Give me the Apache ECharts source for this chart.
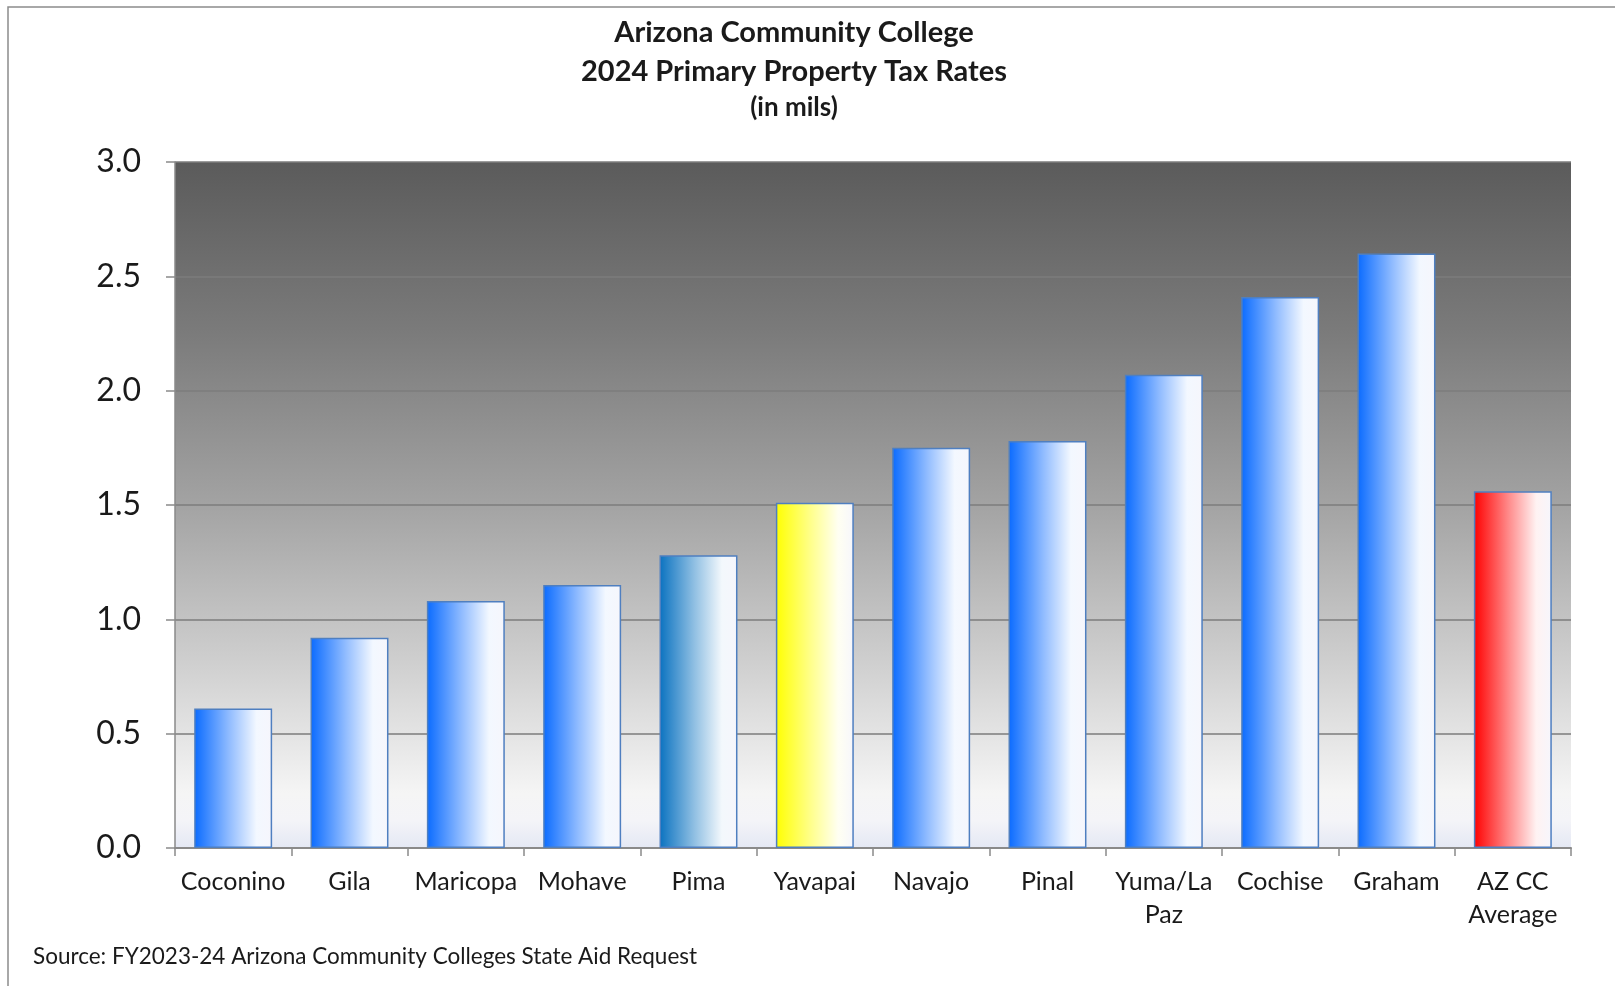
<!DOCTYPE html>
<html>
<head>
<meta charset="utf-8">
<title>Arizona Community College 2024 Primary Property Tax Rates</title>
<script src="https://cdn.jsdelivr.net/npm/echarts@6/dist/echarts.min.js"></script>
<style>
  html, body { margin: 0; padding: 0; background: #ffffff; }
  #chart { width: 1615px; height: 986px; }
</style>
</head>
<body>
<div id="chart"></div>
<script>
// Colleges, in the order they are plotted
const colleges = ['Coconino', 'Gila', 'Maricopa', 'Mohave', 'Pima', 'Yavapai', 'Navajo', 'Pinal', 'Yuma/La\nPaz', 'Cochise', 'Graham', 'AZ CC\nAverage'];
// Primary property tax rate, mils
const taxRates = [0.61, 0.92, 1.08, 1.15, 1.28, 1.51, 1.75, 1.78, 2.07, 2.41, 2.60, 1.56];
// Highlight colour per bar (default blue)
const barBaseColors = ['#0a6bff', '#0a6bff', '#0a6bff', '#0a6bff', '#0a72c0', '#ffff00', '#0a6bff', '#0a6bff', '#0a6bff', '#0a6bff', '#0a6bff', '#ff0000'];
const yTicks = [0, 0.5, 1.0, 1.5, 2.0, 2.5, 3.0];
const titleLines = ['Arizona Community College', '2024 Primary Property Tax Rates', '(in mils)'];

const chart = echarts.init(document.getElementById('chart'), null, { renderer: 'canvas' });

function mix(hex, t) {
  // blend colour with white by t (0 = colour, 1 = white)
  const n = parseInt(hex.slice(1), 16);
  const r = (n >> 16) & 255, g = (n >> 8) & 255, b = n & 255;
  const f = c => Math.round(c + (255 - c) * t);
  return 'rgb(' + f(r) + ',' + f(g) + ',' + f(b) + ')';
}

function barFill(base) {
  return new echarts.graphic.LinearGradient(0, 0, 1, 0, [
    { offset: 0, color: base },
    { offset: 0.45, color: mix(base, 0.55) },
    { offset: 0.8, color: mix(base, 0.95) },
    { offset: 1, color: '#f6f6fc' }
  ]);
}

const fontFamily = 'Lato, "Open Sans", sans-serif';
const titleX = 794;

const option = {
  backgroundColor: '#ffffff',
  animation: false,
  graphic: [
    { type: 'rect', shape: { x: 8, y: 7, width: 1700, height: 1100 }, style: { fill: 'none', stroke: '#8c8c8c', lineWidth: 1.5 }, silent: true },
    { type: 'text', x: titleX, y: 18,
      style: { text: titleLines[0], align: 'center', fontFamily, fontSize: 29, fontWeight: 'bold', fill: '#1a1a1a' } },
    { type: 'text', x: titleX, y: 57,
      style: { text: titleLines[1], align: 'center', fontFamily, fontSize: 29, fontWeight: 'bold', fill: '#1a1a1a' } },
    { type: 'text', x: titleX, y: 95,
      style: { text: titleLines[2], align: 'center', fontFamily, fontSize: 26, fontWeight: 'bold', fill: '#1a1a1a' } },
    { type: 'text', left: 33, top: 945,
      style: { text: 'Source: FY2023-24 Arizona Community Colleges State Aid Request', fontFamily, fontSize: 22.5, fill: '#1a1a1a' } }
  ],
  grid: {
    left: 175, right: 44, top: 162, bottom: 138,
    show: true,
    borderWidth: 0,
    backgroundColor: new echarts.graphic.LinearGradient(0, 0, 0, 1, [
      { offset: 0, color: '#5b5b5b' },
      { offset: 0.25, color: '#7b7b7b' },
      { offset: 0.5, color: '#a3a3a3' },
      { offset: 0.75, color: '#d3d3d3' },
      { offset: 0.92, color: '#f5f5f5' },
      { offset: 0.96, color: '#f4f4f8' },
      { offset: 1, color: '#e4e8f4' }
    ])
  },
  xAxis: {
    type: 'category',
    data: colleges,
    axisLine: { show: true, lineStyle: { color: '#8a8a8a', width: 2 } },
    axisTick: { show: true, alignWithLabel: false, length: 8, lineStyle: { color: '#8a8a8a', width: 1.5 } },
    axisLabel: { fontFamily, fontSize: 25, color: '#1a1a1a', margin: 17, lineHeight: 33, interval: 0 }
  },
  yAxis: {
    type: 'value',
    min: 0, max: 3, interval: 0.5,
    axisLine: { show: true, lineStyle: { color: '#8a8a8a', width: 1.5 } },
    axisTick: { show: true, length: 9, lineStyle: { color: '#8a8a8a', width: 1.5 } },
    axisLabel: { fontFamily, fontSize: 32, color: '#1a1a1a', margin: 34,
      formatter: v => yTicks.includes(v) ? v.toFixed(1) : '' },
    splitLine: { show: true, lineStyle: { color: '#7d7d7d', width: 1.5 } }
  },
  series: [{
    type: 'bar',
    data: taxRates.map((v, i) => ({
      value: v,
      itemStyle: { color: barFill(barBaseColors[i]) }
    })),
    barCategoryGap: '33%',
    itemStyle: { borderColor: '#4f7fc0', borderWidth: 1.5 }
  }]
};

chart.setOption(option);
</script>
</body>
</html>
